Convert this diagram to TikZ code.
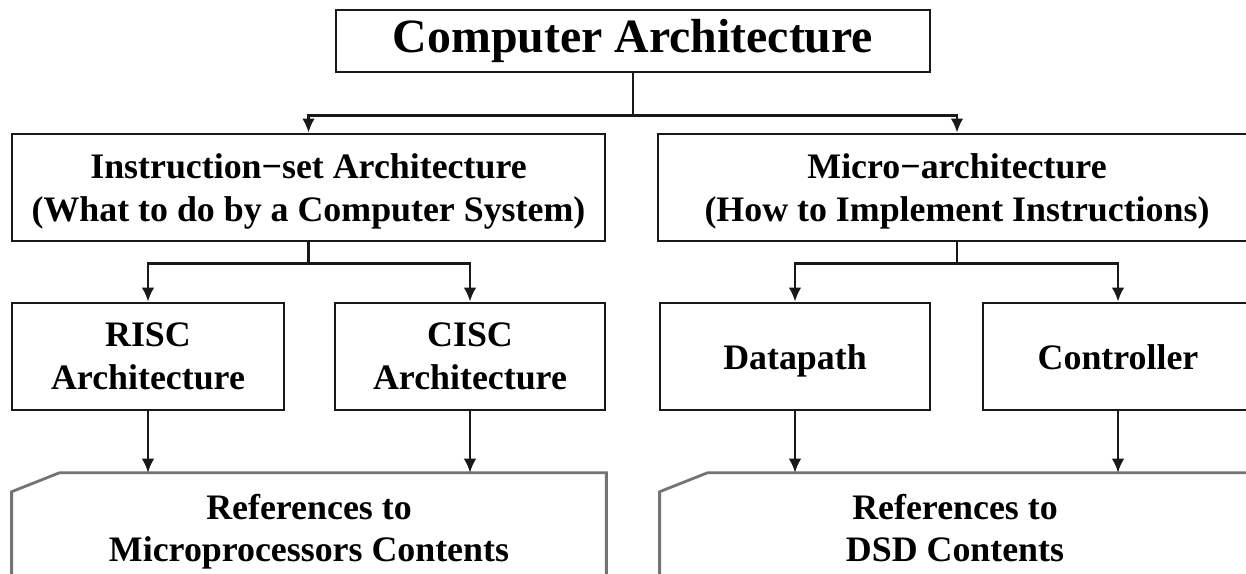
\documentclass[tikz,border=0pt]{standalone}
\usepackage{fontspec}
\setmainfont{Liberation Serif}
\usepackage{tikz}
\usetikzlibrary{arrows.meta,calc}

\begin{document}
\begin{tikzpicture}[x=0.025cm, y=-0.025cm,
    frame/.style={rectangle, draw=black!90, line width=2pt, align=center, inner sep=0pt},
    title/.style={frame, font=\bfseries\fontsize{34}{40}\selectfont},
    box/.style={frame, text depth=0pt, font=\bfseries\fontsize{25.5}{30.5}\selectfont},
    oneline/.style={text height=18pt},
    cardtext/.style={rectangle, align=center, inner sep=0pt, text depth=0pt,
        font=\bfseries\fontsize{25.5}{29.5}\selectfont},
    card/.style={draw=black!55, line width=2pt, line join=miter},
    wire/.style={line width=1.6pt, draw=black!90},
    arr/.style={wire, -{Latex[length=10pt,width=9pt]}}
]
    \useasboundingbox (0,0) rectangle (1246,573);
    \clip (0,0) rectangle (1246,573);
    \fill[white] (0,0) rectangle (1246,573);

    % levels of the tree
    \node[title, minimum width=14.85cm, minimum height=1.55cm] (top) at (633,41) {Computer Architecture};

    \node[box, minimum width=14.825cm, minimum height=2.675cm] (isa) at (308.5,187.5)
        {Instruction−set Architecture\\(What to do by a Computer System)};
    \node[box, minimum width=14.95cm, minimum height=2.675cm] (micro) at (957,187.5)
        {Micro−architecture\\(How to Implement Instructions)};

    \node[box, minimum width=6.8cm, minimum height=2.675cm] (risc) at (148,356.5) {RISC\\Architecture};
    \node[box, minimum width=6.75cm, minimum height=2.675cm] (cisc) at (470,356.5) {CISC\\Architecture};
    \node[box, oneline, minimum width=6.75cm, minimum height=2.675cm] (dpath) at (795,356.5) {Datapath};
    \node[box, oneline, minimum width=6.75cm, minimum height=2.675cm] (ctrl) at (1118,356.5) {Controller};

    \node[cardtext, minimum width=14.85cm, minimum height=2.75cm] (refL) at (309,528)
        {References to\\Microprocessors Contents};
    \node[cardtext, minimum width=14.75cm, minimum height=2.75cm] (refR) at (955,528)
        {References to\\DSD Contents};

    % card outlines with the cut corner
    \foreach \c in {refL,refR}
        \draw[card] ($(\c.north west)+(0,19)$) -- ($(\c.north west)+(48,0)$)
            -- (\c.north east) -- (\c.south east) -- (\c.south west) -- cycle;

    % connectors
    \draw[wire] (top.south) -- ++(0,42) coordinate (rail0);
    \draw[arr] (rail0) -| (isa.north);
    \draw[arr] (rail0) -| (micro.north);

    \draw[wire] (isa.south) -- ++(0,21) coordinate (rail1);
    \draw[arr] (rail1) -| (risc.north);
    \draw[arr] (rail1) -| (cisc.north);

    \draw[wire] (micro.south) -- ++(0,21) coordinate (rail2);
    \draw[arr] (rail2) -| (dpath.north);
    \draw[arr] (rail2) -| (ctrl.north);

    \draw[arr] (risc.south) -- (risc.south |- refL.north);
    \draw[arr] (cisc.south) -- (cisc.south |- refL.north);
    \draw[arr] (dpath.south) -- (dpath.south |- refR.north);
    \draw[arr] (ctrl.south) -- (ctrl.south |- refR.north);
\end{tikzpicture}
\end{document}
